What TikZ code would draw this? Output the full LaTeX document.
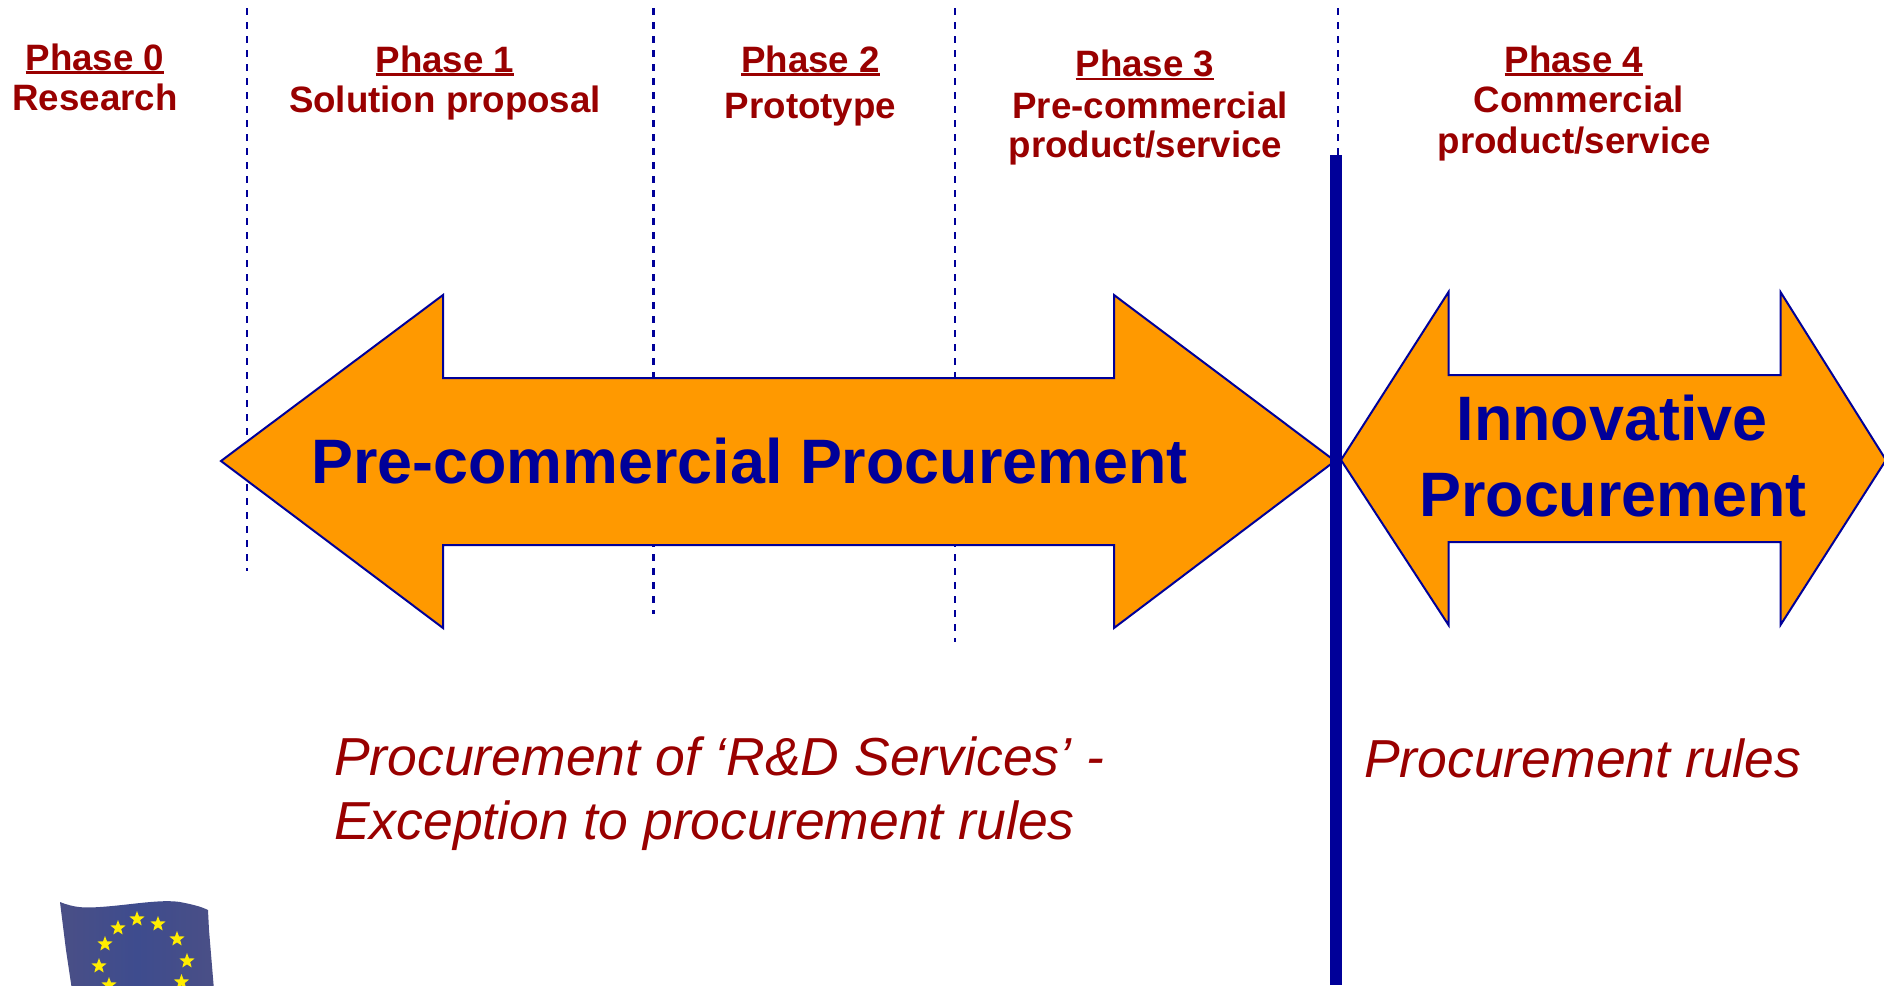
\documentclass[tikz,border=0pt]{standalone}
\usepackage{fontspec}
\setmainfont{Liberation Sans}
\usetikzlibrary{shapes.geometric}
\definecolor{dred}{HTML}{990000}
\definecolor{navy}{HTML}{000099}
\definecolor{orng}{HTML}{FF9900}
\definecolor{flagA}{HTML}{3E4C8E}
\definecolor{flagB}{HTML}{4A4F86}
\newcommand{\phul}[1]{\setbox0\hbox{#1}\rlap{\rule[-3.6pt]{\wd0}{2.2pt}}\box0}
\tikzset{
 x=1pt,y=-1pt,
 phasetxt/.style={anchor=base,inner sep=0pt,text=dred,font=\fontsize{36.7}{40}\selectfont\bfseries},
 bigtxt/.style={anchor=base,inner sep=0pt,text=navy,font=\fontsize{62.8}{66}\selectfont\bfseries},
 ruletxt/.style={anchor=base west,inner sep=0pt,text=dred,font=\fontsize{53.5}{58}\selectfont\itshape},
 dashline/.style={draw=navy,line width=2pt,dash pattern=on 7pt off 7pt},
 dashheavy/.style={draw=navy,line width=2.7pt,dash pattern=on 7pt off 7pt},
 dblarrow/.style={draw=navy,fill=orng,line width=2pt,line join=miter},
 eustar/.style={star,star points=5,star point ratio=2.4,fill=yellow!95!orange,draw=none,inner sep=0pt,minimum size=16pt}
}
\begin{document}
\begin{tikzpicture}
\useasboundingbox (0,0) rectangle (1884,985);
\coordinate (d0t) at (247,8); \coordinate (d0b) at (247,571);
\coordinate (d1t) at (653.5,8); \coordinate (d1b) at (653.5,614);
\coordinate (d2t) at (955,8);   \coordinate (d2b) at (955,642);
\coordinate (d3t) at (1338,8);  \coordinate (d3b) at (1338,156);
\coordinate (bart) at (1336,155); \coordinate (barb) at (1336,985);
\draw[dashline] (d0t) -- (d0b);
\draw[dashheavy] (d1t) -- (d1b);
\draw[dashline] (d2t) -- (d2b);
\draw[dashline] (d3t) -- (d3b);
% arrows
\draw[dblarrow] (221,461) -- (443,295) -- (443,378) -- (1114,378) -- (1114,295) -- (1335,461) -- (1114,628) -- (1114,545) -- (443,545) -- (443,628) -- cycle;
\draw[dblarrow] (1341,460) -- (1448.5,292) -- (1448.5,375) -- (1780.5,375) -- (1780.5,292) -- (1886,460) -- (1780.5,625) -- (1780.5,542) -- (1448.5,542) -- (1448.5,625) -- cycle;
\draw[navy,line width=12pt] (bart) -- (barb);
% phases
\node[phasetxt] (p0) at (95,70) {\phul{Phase 0}};
\node[phasetxt] (p0b) at (95,110) {Research};
\node[phasetxt] (p1) at (445,72) {\phul{Phase 1}};
\node[phasetxt] (p1b) at (445,112) {Solution proposal};
\node[phasetxt] (p2) at (810.5,72) {\phul{Phase 2}};
\node[phasetxt] (p2b) at (810.5,118) {Prototype};
\node[phasetxt] (p3) at (1145,76.5) {\phul{Phase 3}};
\node[phasetxt] (p3b) at (1150,118) {Pre-commercial};
\node[phasetxt] (p3c) at (1145.5,157) {product/service};
\node[phasetxt] (p4) at (1574,72) {\phul{Phase 4}};
\node[phasetxt] (p4b) at (1579,112) {Commercial};
\node[phasetxt] (p4c) at (1574.5,153) {product/service};
% big labels
\node[bigtxt] (pcp) at (749.5,483) {Pre-commercial Procurement};
\node[bigtxt] (ip1) at (1612,440) {Innovative};
\node[bigtxt] (ip2) at (1613,516.5) {Procurement};
% rules
\node[ruletxt] (r1) at (334,775) {Procurement of ‘R\&D Services’ -};
\node[ruletxt] (r2) at (334,839) {Exception to procurement rules};
\node[ruletxt] (r3) at (1364,777) {Procurement rules};
% flag
\begin{scope}
\clip (0,0) rectangle (1884,985);
\shade[left color=flagB,right color=flagB,middle color=flagA]
 (60,902) .. controls (75,908) and (85,908) .. (100,907) .. controls (130,905) and (160,899) .. (180,902) .. controls (190,904) and (200,906) .. (208,910) -- (209,930) -- (214,990) -- (72,990) -- (66,950) -- cycle;
\foreach \i/\px/\py in {1/137/919,2/158/924,3/177/939,4/187/961,5/181.5/982,6/118/928,7/105/944,8/99/966,9/109/985}
 \node[eustar] (s\i) at (\px,\py) {};
\end{scope}
\end{tikzpicture}
\end{document}
